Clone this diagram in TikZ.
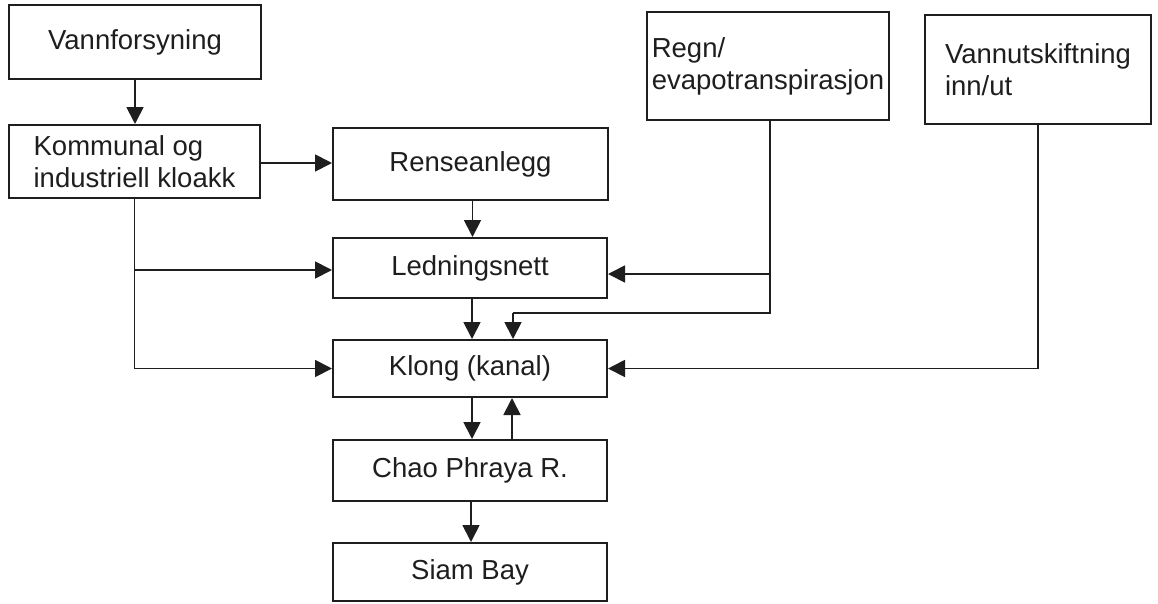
\documentclass[tikz,border=0pt]{standalone}
\usepackage{fontspec}
\setmainfont{Liberation Sans}
\usetikzlibrary{arrows.meta}
\definecolor{ink}{HTML}{1E1E1E}
\begin{document}
\begin{tikzpicture}[x=1pt,y=-1pt,
  box/.style={draw=ink, line width=2pt, inner sep=0pt, align=left,
    font=\fontsize{27.5}{32}\selectfont, text=ink},
  conn/.style={draw=ink, line width=1.8pt},
  arr/.style={conn, -{Triangle[length=17pt,width=17pt]}}]
\useasboundingbox[fill=white] (0,0) rectangle (1158,603);

\node[box, minimum width=252, minimum height=74] (vf) at (135,42) {Vannforsyning};
\node[box, minimum width=251, minimum height=73] (kom) at (134.5,161.5) {Kommunal og\\industriell kloakk};
\node[box, minimum width=275, minimum height=72] (ren) at (470.5,164) {Renseanlegg};
\node[box, minimum width=274, minimum height=60] (led) at (470,268) {Ledningsnett};
\node[box, minimum width=274, minimum height=57] (klong) at (470,368.5) {Klong (kanal)};
\node[box, minimum width=274, minimum height=61] (chao) at (470,470.5) {Chao Phraya R.};
\node[box, minimum width=274, minimum height=58] (siam) at (470,572) {Siam Bay};
\node[box, minimum width=242, minimum height=108] (regn) at (768,66) {Regn/\\evapotranspirasjon};
\node[box, minimum width=226, minimum height=109] (vann) at (1038,69.5) {Vannutskiftning\\inn/ut};

\coordinate (rj) at (770,313);

% left column
\draw[arr] (vf.south) -- (vf.south |- kom.north);
\draw[arr] ([yshift=-1.5pt]kom.east) -- ([yshift=-1.5pt]kom.east -| ren.west);
\draw[conn] (kom.south) -- (kom.south |- klong.west);
\draw[arr] ([yshift=-2pt]kom.south |- led.west) -- ([yshift=-2pt]led.west);
\draw[arr] (kom.south |- klong.west) -- (klong.west);

% middle column
\draw[arr] ([xshift=2pt]ren.south) -- ([xshift=2pt]ren.south |- led.north);
\draw[arr] ([xshift=2pt]led.south) -- ([xshift=2pt]led.south |- klong.north);
\draw[arr] ([xshift=2pt]klong.south) -- ([xshift=2pt]klong.south |- chao.north);
\draw[arr] ([xshift=42pt]chao.north) -- ([xshift=42pt]klong.south);
\draw[arr] ([xshift=1pt]chao.south) -- ([xshift=1pt]chao.south |- siam.north);

% Regn / evapotranspirasjon
\draw[conn] ([xshift=2pt]regn.south) -- ([xshift=2pt]regn.south |- rj) -- ([xshift=43pt]klong.north |- rj);
\draw[arr] ([xshift=43pt]klong.north |- rj) -- ([xshift=43pt]klong.north);
\draw[arr] ([yshift=-6pt]led.east -| rj) -- ([yshift=-6pt]led.east);

% Vannutskiftning
\draw[arr] (vann.south) |- (klong.east);
\end{tikzpicture}
\end{document}
